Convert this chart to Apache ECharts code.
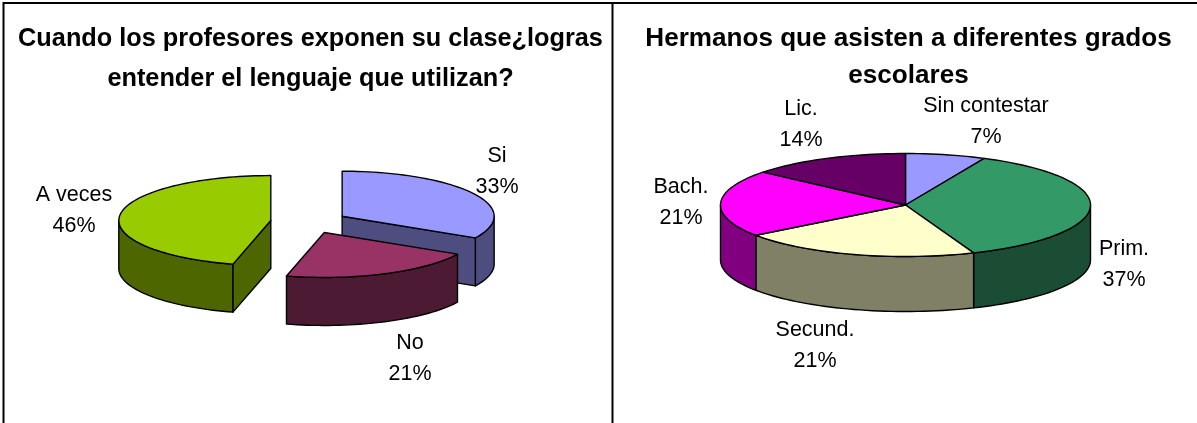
<!DOCTYPE html>
<html><head><meta charset="utf-8">
<style>html,body{margin:0;padding:0;background:#fff}#c{width:1197px;height:423px}</style>
<script src="https://cdn.jsdelivr.net/npm/echarts@6/dist/echarts.min.js"></script>
</head><body><div id="c"></div>
<script>
const leftTitle = 'Cuando los profesores exponen su clase¿logras\nentender el lenguaje que utilizan?';
const rightTitle = 'Hermanos que asisten a diferentes grados\nescolares';
const leftNames = ['Si', 'No', 'A veces'];
const leftValues = [33, 21, 46];
const rightNames = ['Sin contestar', 'Prim.', 'Secund.', 'Bach.', 'Lic.'];
const rightValues = [7, 37, 21, 21, 14];

const leftTop = ['#9999FF', '#993366', '#99CC00'];
const leftSide = ['#4D4D80', '#4D1A33', '#4D6600'];
const rightTop = ['#9999FF', '#339966', '#FFFFCC', '#FF00FF', '#660066'];
const rightSide = ['#4D4D80', '#1A4D33', '#808066', '#800080', '#330033'];

const leftGeom = {cx: 309, cy: 222, rx: 152, ry: 45, depth: 48, explode: 38.5,
  labels: [[497, 172], [410, 359], [74, 211]]};
const rightGeom = {cx: 905.5, cy: 205, rx: 185, ry: 51.5, depth: 55, explode: 0,
  labels: [[986, 122], [1124, 265], [815, 346], [681, 203], [801, 125]]};

const LABEL_FONT = 21.5, FONT = '"Liberation Sans", Arial, sans-serif';
const rad = d => d * Math.PI / 180;

function makeRender(values, names, top, side, g) {
  const total = values.reduce((a, b) => a + b, 0);
  return function (params, api) {
    const i = params.dataIndex, v = api.value(0);
    const before = values.slice(0, i).reduce((a, b) => a + b, 0);
    const a = before / total * 360, b = (before + v) / total * 360, mid = (a + b) / 2;
    const ox = g.cx + g.explode * Math.sin(rad(mid));
    const oy = g.cy - g.explode * Math.cos(rad(mid)) * g.ry / g.rx;
    const pt = (ang, dz) => [ox + g.rx * Math.sin(rad(ang)), oy - g.ry * Math.cos(rad(ang)) + (dz || 0)];
    const arc = (s, e, dz) => {
      const n = Math.max(2, Math.ceil(Math.abs(e - s) / 2)), out = [];
      for (let k = 0; k <= n; k++) out.push(pt(s + (e - s) * k / n, dz));
      return out;
    };
    const line = {stroke: '#000', lineWidth: 1.4, lineJoin: 'round'};
    const kids = [];
    const face = (points, fill) => kids.push({type: 'polygon', shape: {points}, style: Object.assign({fill}, line)});
    const lo = Math.max(a, 90), hi = Math.min(b, 270);
    if (hi > lo) face(arc(lo, hi, 0).concat(arc(hi, lo, g.depth)), side[i]);
    if (g.explode > 0) {
      const c = [ox, oy], cd = [ox, oy + g.depth];
      if (Math.sin(rad(a)) < -1e-6) face([c, pt(a), pt(a, g.depth), cd], side[i]);
      if (Math.sin(rad(b)) > 1e-6) face([c, pt(b), pt(b, g.depth), cd], side[i]);
    }
    face([[ox, oy]].concat(arc(a, b, 0)), top[i]);
    kids.push({type: 'text', z2: 10, style: {
      text: names[i] + '\n' + Math.round(v / total * 100) + '%',
      x: g.labels[i][0], y: g.labels[i][1], align: 'center', verticalAlign: 'middle',
      fontSize: LABEL_FONT, lineHeight: 31, fontFamily: FONT, fill: '#000'}});
    return {type: 'group', children: kids};
  };
}
const series = (values, names, top, side, g) => ({
  type: 'custom', coordinateSystem: 'none', silent: true, clip: false,
  renderItem: makeRender(values, names, top, side, g),
  data: values.map((v, i) => ({name: names[i], value: [v]}))
});
const titleStyle = (size, lh) => ({align: 'center', fontFamily: FONT, fontWeight: 'bold', fontSize: size, color: '#000', lineHeight: lh});

echarts.init(document.getElementById('c'), null, {renderer: 'canvas'}).setOption({
  animation: false,
  backgroundColor: '#fff',
  title: [
    {text: leftTitle, left: 310.5, top: 19, textAlign: 'center', padding: 0, textStyle: titleStyle(25.3, 40)},
    {text: rightTitle, left: 908.5, top: 20, textAlign: 'center', padding: 0, textStyle: titleStyle(26.1, 37)}
  ],
  graphic: [
    {type: 'line', shape: {x1: 3, y1: 3, x2: 1197, y2: 3}, style: {stroke: '#000', lineWidth: 2}},
    {type: 'line', shape: {x1: 3.5, y1: 2, x2: 3.5, y2: 423}, style: {stroke: '#000', lineWidth: 2}},
    {type: 'line', shape: {x1: 612.5, y1: 2, x2: 612.5, y2: 423}, style: {stroke: '#000', lineWidth: 2}}
  ],
  series: [
    series(leftValues, leftNames, leftTop, leftSide, leftGeom),
    series(rightValues, rightNames, rightTop, rightSide, rightGeom)
  ]
});
</script></body></html>
